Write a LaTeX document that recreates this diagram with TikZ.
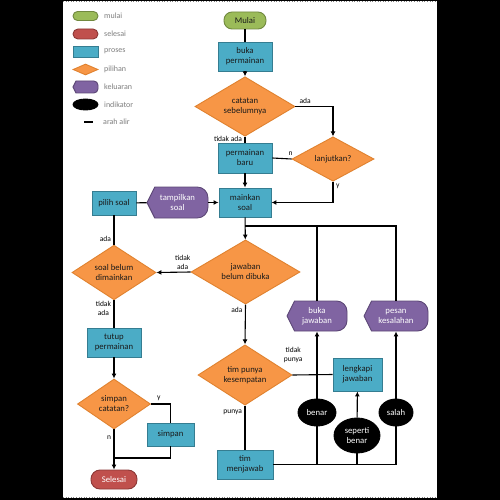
\documentclass[tikz,border=0pt]{standalone}
\usepackage{fontspec}
\setmainfont{Carlito}
\usetikzlibrary{shapes.geometric,arrows.meta}
\definecolor{bfill}{HTML}{4BACC6}
\definecolor{bdraw}{HTML}{357D91}
\definecolor{ofill}{HTML}{F79646}
\definecolor{odraw}{HTML}{E0822F}
\definecolor{pfill}{HTML}{8064A2}
\definecolor{pdraw}{HTML}{5C4776}
\definecolor{gfill}{HTML}{9BBB59}
\definecolor{gdraw}{HTML}{71893F}
\definecolor{rfill}{HTML}{C0504D}
\definecolor{rdraw}{HTML}{8C3836}
\definecolor{txt}{HTML}{1A1A1A}
\definecolor{legtxt}{HTML}{7F7F7F}
% name, x, y, w, h
\newcommand\keluaranshape[4]{%
  \draw[fill=pfill, draw=pdraw, line width=0.9pt]
    ({#1-#3/2},#2) -- ({#1-#3/2+0.25*#4},{#2-#4/2})
    [rounded corners={0.35*#4pt}] -- ({#1+#3/2},{#2-#4/2}) -- ({#1+#3/2},{#2+#4/2})
    [sharp corners] -- ({#1-#3/2+0.25*#4},{#2+#4/2}) -- cycle;}
\begin{document}
\begin{tikzpicture}[x=1pt,y=-1pt,
  base/.style={font=\fontsize{8.7}{10}\selectfont, align=center, inner sep=0pt, line width=0.9pt, text=txt},
  proses/.style={base, rectangle, fill=bfill, draw=bdraw},
  pilihan/.style={base, diamond, fill=ofill, draw=odraw},
  startbox/.style={base, rectangle, fill=gfill, draw=gdraw},
  endbox/.style={base, rectangle, fill=rfill, draw=rdraw, text=white},
  indik/.style={base, ellipse, fill=black, draw=black, text=white},
  ktext/.style={base, rectangle, text=white},
  lbl/.style={font=\fontsize{7.5}{9}\selectfont, align=center, inner sep=2.5pt, text=black},
  legl/.style={font=\fontsize{8}{9}\selectfont, text=legtxt, anchor=west, inner sep=0pt},
  flow/.style={line width=1.1pt, draw=black},
  arr/.style={flow, -{Latex[length=5pt,width=5pt]}},
]
\useasboundingbox (0,0) rectangle (500,500);
\fill[black] (0,0) rectangle (500,500);
\fill[white] (63,1) rectangle (437,498);
\draw[dotted, line width=0.6pt, gray] (63,1.3) -- (437,1.3);
\draw[dotted, line width=0.6pt, gray] (63,497.7) -- (437,497.7);

% legend
\node[startbox, rounded corners=4.5pt, minimum width=25pt, minimum height=9pt] (lg1) at (85.5,16) {};
\node[legl] (lt1) at (104,16) {mulai};
\node[endbox, rounded corners=5pt, minimum width=25pt, minimum height=10pt] (lg2) at (85.5,34) {};
\node[legl] (lt2) at (104,34) {selesai};
\node[proses, minimum width=25pt, minimum height=11pt] (lg3) at (85.5,51.5) {};
\node[legl] (lt3) at (104,51.5) {proses};
\node[pilihan, minimum width=25pt, minimum height=11pt] (lg4) at (85.5,69.5) {};
\node[legl] (lt4) at (104,69.5) {pilihan};
\keluaranshape{85.5}{87}{25}{12}
\node[ktext, minimum width=25pt, minimum height=12pt] (lg5) at (85.5,87) {};
\node[legl] (lt5) at (104,87) {keluaran};
\node[indik, minimum width=25pt, minimum height=11pt] (lg6) at (85.5,104.5) {};
\node[legl] (lt6) at (104,104.5) {indikator};
\coordinate (lg7a) at (84,122);
\coordinate (lg7b) at (93,122);
\draw[flow] (lg7a) -- (lg7b);
\node[legl] (lt7) at (103,122) {arah alir};

% main nodes
\node[startbox, rounded corners=8pt, minimum width=42pt, minimum height=17pt] (mulai) at (245,20.5) {Mulai};
\node[proses, minimum width=54pt, minimum height=29pt] (buka) at (245,56.5) {buka\\permainan};
\node[pilihan, minimum width=100pt, minimum height=43pt] (cat) at (245,106.5) {catatan\\sebelumnya};
\node[proses, minimum width=54pt, minimum height=30pt] (perm) at (245,158) {permainan\\baru};
\node[pilihan, minimum width=82pt, minimum height=40pt] (lanj) at (333,159) {lanjutkan?};
\node[proses, minimum width=52pt, minimum height=29pt] (main) at (245,202.5) {mainkan\\soal};
\keluaranshape{177.5}{202.5}{61}{31}
\node[ktext, minimum width=61pt, minimum height=31pt] (tamp) at (177.5,202.5) {tampilkan\\soal};
\node[proses, minimum width=44pt, minimum height=24pt] (pilih) at (114,203) {pilih soal};
\node[pilihan, minimum width=84pt, minimum height=49pt] (soal) at (114,272.5) {soal belum\\dimainkan};
\node[pilihan, minimum width=109pt, minimum height=58pt] (jaw) at (245.5,272) {jawaban\\belum dibuka};
\keluaranshape{317}{316}{60}{30}
\node[ktext, minimum width=60pt, minimum height=30pt] (bukajaw) at (317,316) {buka\\jawaban};
\keluaranshape{396}{316}{64}{30}
\node[ktext, minimum width=64pt, minimum height=30pt] (pesan) at (396,316) {pesan\\kesalahan};
\node[pilihan, minimum width=94pt, minimum height=56pt] (tim) at (245,375) {tim punya\\kesempatan};
\node[proses, minimum width=49pt, minimum height=33pt] (leng) at (357.5,374.5) {lengkapi\\jawaban};
\node[indik, minimum width=38pt, minimum height=27pt] (benar) at (317,412.5) {benar};
\node[indik, minimum width=46pt, minimum height=35pt] (seperti) at (357,435.5) {seperti\\benar};
\node[indik, minimum width=34pt, minimum height=27pt] (salah) at (396,412.5) {salah};
\node[proses, minimum width=56pt, minimum height=29pt] (timmen) at (245,464.5) {tim\\menjawab};
\node[proses, minimum width=54pt, minimum height=29pt] (tutup) at (114,342.5) {tutup\\permainan};
\node[pilihan, minimum width=73pt, minimum height=50pt] (simcat) at (114,404) {simpan\\catatan?};
\node[proses, minimum width=47pt, minimum height=23pt] (simpan) at (170.5,434.5) {simpan};
\node[endbox, rounded corners=9pt, minimum width=46pt, minimum height=19pt] (selesai) at (114,479.5) {Selesai};

% connectors
\draw[flow] (mulai) -- (buka);
\draw[arr] (buka) -- (cat);
\draw[arr] (cat.east) -| node[lbl, above, pos=0.13] {ada} (lanj.north);
\draw[flow] (cat.south) -- node[lbl, left, pos=0.35] {tidak ada} (perm.north);
\draw[flow] (lanj.west) -- node[lbl, above, pos=0.05] {n} (perm.east);
\draw[arr] (lanj.south) |- node[lbl, right, pos=0.1] {y} (main.east);
\draw[arr] (perm) -- (main);
\draw[flow] (pilih) -- (tamp);
\draw[arr] (tamp) -- (main);
\draw[arr] (main) -- (jaw);
\coordinate (split) at (245,226);
\draw[flow] (split) -| (pesan.north);
\draw[flow] (bukajaw.north) -- (bukajaw.north |- split);
\draw[arr] (jaw.west) -- node[lbl, above, pos=0.23] {tidak\\ada} (soal.east);
\draw[flow] (soal.north) -- node[lbl, left, pos=0.2] {ada} (pilih.south);
\draw[flow] (soal.south) -- node[lbl, left, pos=0.3] {tidak\\ada} (tutup.north);
\draw[arr] (tutup) -- (simcat);
\draw[flow] (simcat.east) -| node[lbl, above, pos=0.2] {y} (simpan.north);
\draw[arr] (simcat.south) -- node[lbl, left, pos=0.2] {n} (selesai.north);
\coordinate (join) at (114,458);
\draw[flow] (simpan.south) |- (join);
\draw[arr] (jaw.south) -- node[lbl, left, pos=0.13] {ada} (tim.north);
\draw[flow] (tim.south) -- node[lbl, left, pos=0.15] {punya} (timmen.north);
\draw[flow] (tim.east) -- node[lbl, above, pos=0.02, yshift=9pt] {tidak\\punya} (leng.west);
\draw[flow] (timmen.east) -| (salah.south);
\draw[flow] (benar.south) |- (timmen.east);
\draw[flow] (seperti.south) |- (timmen.east);
\draw[arr] (benar) -- (bukajaw.south);
\draw[arr] (seperti) -- (leng);
\draw[arr] (salah) -- (pesan.south);
\end{tikzpicture}
\end{document}
